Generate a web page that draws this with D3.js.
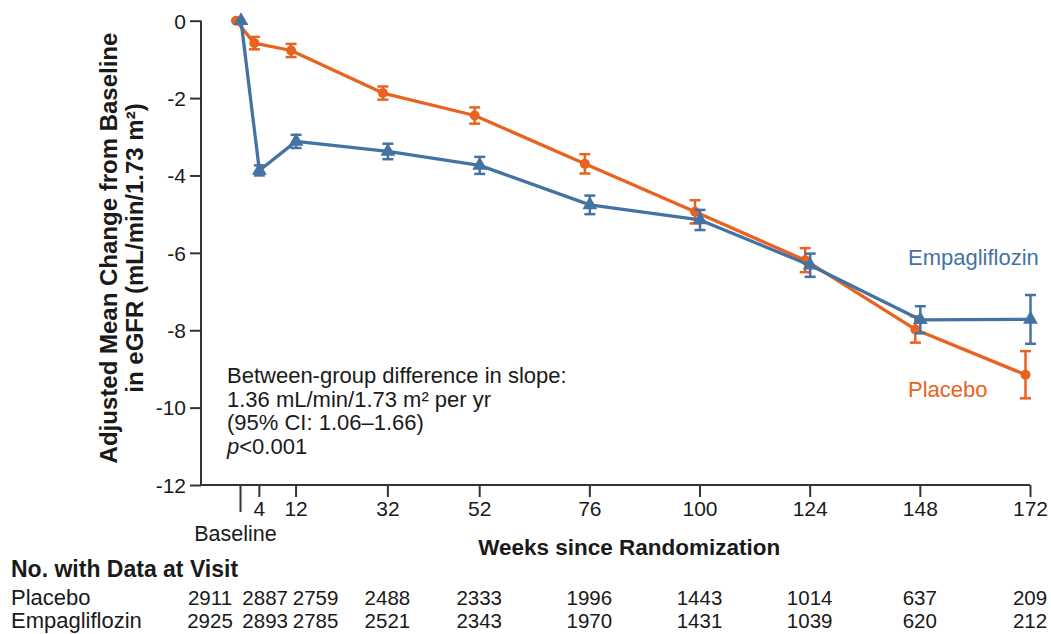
<!DOCTYPE html>
<html>
<head>
<meta charset="utf-8">
<script src="https://cdn.jsdelivr.net/npm/d3@7"></script>
<style>
  html, body { margin: 0; padding: 0; background: #fff; }
  svg { display: block; font-family: "Liberation Sans", Arial, sans-serif; }
</style>
</head>
<body>
<svg id="chart" width="1051" height="634"></svg>
<script>
// Visit weeks (0 = baseline)
const weeks = [0, 4, 12, 32, 52, 76, 100, 124, 148, 172];

// Adjusted mean change in eGFR from baseline, with standard errors
const placeboMean = [0, -0.58, -0.77, -1.87, -2.45, -3.70, -4.94, -6.19, -7.98, -9.15];
const placeboErr  = [0, 0.16, 0.17, 0.17, 0.21, 0.25, 0.30, 0.31, 0.34, 0.61];
const empaMean    = [0, -3.87, -3.12, -3.38, -3.74, -4.76, -5.15, -6.32, -7.73, -7.72];
const empaErr     = [0, 0.13, 0.17, 0.20, 0.22, 0.24, 0.26, 0.30, 0.35, 0.63];

// Patients with data at each visit
const placeboN = [2911, 2887, 2759, 2488, 2333, 1996, 1443, 1014, 637, 209];
const empaN    = [2925, 2893, 2785, 2521, 2343, 1970, 1431, 1039, 620, 212];

// Axis ticks
const yTicks = [0, -2, -4, -6, -8, -10, -12];
const xTickWeeks = [4, 12, 32, 52, 76, 100, 124, 148, 172];

const annotation = [
  "Between-group difference in slope:",
  "1.36 mL/min/1.73 m\u00b2 per yr",
  "(95% CI: 1.06\u20131.66)"
];

const ORANGE = "#E8631F";
const BLUE = "#4473A3";
const AXIS = "#333";
const TEXT = "#1a1a1a";
const FS = "22px";

const svg = d3.select("#chart");

const x = d3.scaleLinear().domain([0, 172]).range([240.5, 1030]);
const y = d3.scaleLinear().domain([0, -12]).range([20.7, 485]);
const axisLeftX = 201;

// ---- Axes ----
const yAxis = svg.append("g")
  .attr("transform", `translate(${axisLeftX},0)`)
  .call(d3.axisLeft(y).tickValues(yTicks).tickSize(11).tickPadding(4).tickFormat(d => String(d)));
yAxis.select(".domain").attr("d", `M0,${y(0)}V${y(-12)}`);

const xAxis = svg.append("g")
  .attr("transform", `translate(0,${y(-12)})`)
  .call(d3.axisBottom(x).tickValues(xTickWeeks).tickSize(12).tickPadding(4).tickFormat(d => String(d)));
xAxis.select(".domain").attr("d", `M${axisLeftX},0H${x(172)}`);

[yAxis, xAxis].forEach(g => {
  g.selectAll(".domain, .tick line").attr("stroke", AXIS).attr("stroke-width", 2);
  g.selectAll(".tick text")
    .attr("fill", TEXT)
    .style("font-size", "21px")
    .style("font-family", "'Liberation Sans', Arial, sans-serif");
});
xAxis.selectAll(".tick text").attr("dy", "0.72em");
yAxis.selectAll(".tick text").attr("dy", "0.35em");

// Baseline tick (longer, unlabeled) with its caption below
svg.append("line")
  .attr("x1", x(0)).attr("x2", x(0))
  .attr("y1", y(-12)).attr("y2", y(-12) + 27)
  .attr("stroke", AXIS).attr("stroke-width", 2);
svg.append("text")
  .attr("x", x(0) - 5).attr("y", 541)
  .attr("text-anchor", "middle")
  .attr("fill", TEXT).style("font-size", "21.5px")
  .text("Baseline");

// Axis titles
svg.append("text")
  .attr("x", (x(0) + x(172)) / 2 - 6).attr("y", 555)
  .attr("text-anchor", "middle")
  .attr("fill", TEXT).style("font-size", "22.5px").style("font-weight", "bold")
  .text("Weeks since Randomization");

const yTitle = svg.append("text")
  .attr("transform", "translate(117,248) rotate(-90)")
  .attr("text-anchor", "middle")
  .attr("fill", TEXT).style("font-size", "24px").style("font-weight", "bold");
yTitle.append("tspan").attr("x", 0).attr("dy", 0).text("Adjusted Mean Change from Baseline");
yTitle.append("tspan").attr("x", 0).attr("dy", 26).text("in eGFR (mL/min/1.73 m\u00b2)");

// ---- Series ----
const series = [
  { name: "Placebo", mean: placeboMean, err: placeboErr, color: ORANGE, shift: -4.5, marker: "circle" },
  { name: "Empagliflozin", mean: empaMean, err: empaErr, color: BLUE, shift: 0.5, marker: "triangle" }
];

const line = d3.line().x(d => d.px).y(d => y(d.v));

series.forEach(s => {
  const pts = weeks.map((w, i) => ({ w, v: s.mean[i], e: s.err[i], px: x(w) + s.shift }));
  const g = svg.append("g");

  g.append("path")
    .datum(pts)
    .attr("d", line)
    .attr("fill", "none")
    .attr("stroke", s.color)
    .attr("stroke-width", 3.3)
    .attr("stroke-linejoin", "round");

  const eb = g.selectAll(".err").data(pts.filter(d => d.e > 0)).enter().append("g")
    .attr("stroke", s.color).attr("stroke-width", 2.5);
  eb.append("line")
    .attr("x1", d => d.px).attr("x2", d => d.px)
    .attr("y1", d => y(d.v + d.e)).attr("y2", d => y(d.v - d.e));
  eb.append("line")
    .attr("x1", d => d.px - 5.5).attr("x2", d => d.px + 5.5)
    .attr("y1", d => y(d.v + d.e)).attr("y2", d => y(d.v + d.e));
  eb.append("line")
    .attr("x1", d => d.px - 5.5).attr("x2", d => d.px + 5.5)
    .attr("y1", d => y(d.v - d.e)).attr("y2", d => y(d.v - d.e));

  if (s.marker === "circle") {
    g.selectAll(".pt").data(pts).enter().append("circle")
      .attr("cx", d => d.px).attr("cy", d => y(d.v))
      .attr("r", 5).attr("fill", s.color);
  } else {
    const tri = d3.symbol().type(d3.symbolTriangle).size(95);
    g.selectAll(".pt").data(pts).enter().append("path")
      .attr("d", tri)
      .attr("transform", d => `translate(${d.px},${y(d.v)})`)
      .attr("fill", s.color);
  }
});

// Series labels
svg.append("text").attr("x", 908).attr("y", 265)
  .attr("fill", BLUE).style("font-size", FS).text("Empagliflozin");
svg.append("text").attr("x", 908).attr("y", 397)
  .attr("fill", ORANGE).style("font-size", FS).text("Placebo");

// Slope difference annotation
const ann = svg.append("g").attr("fill", TEXT).style("font-size", FS);
annotation.forEach((t, i) => {
  ann.append("text").attr("x", 227).attr("y", 383 + i * 23.7).text(t);
});
const pLine = ann.append("text").attr("x", 227).attr("y", 383 + 3 * 23.7);
pLine.append("tspan").style("font-style", "italic").text("p");
pLine.append("tspan").text("<0.001");

// ---- Number at risk table ----
svg.append("text").attr("x", 11).attr("y", 577)
  .attr("fill", TEXT).style("font-size", "23px").style("font-weight", "bold")
  .text("No. with Data at Visit");

// horizontal nudges keep the closely spaced early counts from overlapping
const countNudge = [-30.5, 6.3, 20, 0, 0, 0, 0, 0, 0, 0];

[["Placebo", placeboN, 604.5], ["Empagliflozin", empaN, 628]].forEach(([label, counts, yy]) => {
  svg.append("text").attr("x", 11).attr("y", yy)
    .attr("fill", TEXT).style("font-size", FS).text(label);
  svg.append("g").selectAll("text").data(counts).enter().append("text")
    .attr("x", (d, i) => x(weeks[i]) + countNudge[i])
    .attr("y", yy)
    .attr("text-anchor", "middle")
    .attr("fill", TEXT).style("font-size", "20.5px")
    .text(d => d);
});
</script>
</body>
</html>
